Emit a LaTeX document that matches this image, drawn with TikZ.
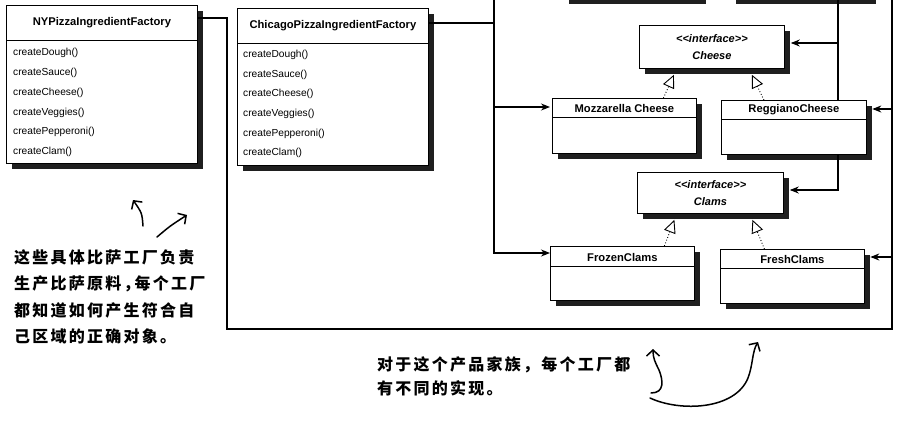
\documentclass[tikz,border=0pt]{standalone}
\usepackage{fontspec}
\setmainfont{Liberation Sans}
\newfontfamily\cjk[LetterSpace=14]{Noto Sans CJK SC}
\usetikzlibrary{arrows.meta,shadows}
\pgfdeclarelayer{bg}
\pgfsetlayers{bg,main}
\tikzset{
 box/.style={draw, line width=0.8pt, fill=white, rectangle, inner sep=0, anchor=north west,
   drop shadow={shadow xshift=5.5pt, shadow yshift=-5.5pt, fill=black, opacity=0.88}},
 ttl/.style={font=\bfseries\fontsize{11.2}{13}\selectfont, inner sep=0},
 ifc/.style={font=\bfseries\itshape\fontsize{11}{17}\selectfont, inner sep=0, align=center},
 meth/.style={font=\fontsize{10.2}{12}\selectfont, inner sep=0, anchor=west},
 conn/.style={line width=1.1pt},
 assoc/.style={conn, -{Stealth[length=9pt,width=7pt]}},
 real/.style={line width=0.9pt, dotted, -{Triangle[open,length=13pt,width=12pt,line width=0.9pt]}},
 hand/.style={line width=1.5pt, line cap=round, line join=round, -{Straight Barb[length=6pt,width=13pt,line width=1.5pt]}},
 note/.style={align=left, inner sep=0, anchor=north west},
}
\begin{document}
\begin{tikzpicture}[x=1pt,y=-1pt]
\useasboundingbox (0,0) rectangle (912,420);
\clip (0,0) rectangle (912,420);

% ---------- boxes ----------
\node[box, minimum width=191pt, minimum height=158pt] (ny) at (6,5) {};
\draw[line width=0.8pt] ([yshift=-35pt]ny.north west) -- ([yshift=-35pt]ny.north east);
\node[ttl] (nyT) at ([yshift=-18pt]ny.north) {NYPizzaIngredientFactory};
\foreach \m [count=\i from 0] in {createDough(),createSauce(),createCheese(),createVeggies(),createPepperoni(),createClam()}
  \node[meth] (ny\i) at ([shift={(7,48.3+19.7*\i)}]ny.north west) {\m};

\node[box, minimum width=191pt, minimum height=157pt] (chi) at (237,8) {};
\draw[line width=0.8pt] ([yshift=-35pt]chi.north west) -- ([yshift=-35pt]chi.north east);
\node[ttl] (chiT) at ([yshift=-17.5pt]chi.north) {ChicagoPizzaIngredientFactory};
\foreach \m [count=\i from 0] in {createDough(),createSauce(),createCheese(),createVeggies(),createPepperoni(),createClam()}
  \node[meth] (chi\i) at ([shift={(6,47+19.6*\i)}]chi.north west) {\m};

\node[box, minimum width=137pt, minimum height=58pt] (top1) at (563,-60) {};
\node[box, minimum width=140pt, minimum height=58pt] (top2) at (730,-60) {};

\node[box, minimum width=145pt, minimum height=43pt] (cheese) at (639,25) {};
\node[ifc] (cheeseT) at (cheese.center) {<{}<interface>{}>\\Cheese};

\node[box, minimum width=144pt, minimum height=55pt] (mozz) at (552,98) {};
\draw[line width=0.8pt] ([yshift=-19pt]mozz.north west) -- ([yshift=-19pt]mozz.north east);
\node[ttl] (mozzT) at ([yshift=-10pt]mozz.north) {Mozzarella Cheese};

\node[box, minimum width=145pt, minimum height=54pt] (reg) at (721,100) {};
\draw[line width=0.8pt] ([yshift=-19pt]reg.north west) -- ([yshift=-19pt]reg.north east);
\node[ttl] (regT) at ([yshift=-10pt]reg.north) {ReggianoCheese};

\node[box, minimum width=146pt, minimum height=41pt] (clams) at (637,172) {};
\node[ifc] (clamsT) at (clams.center) {<{}<interface>{}>\\Clams};

\node[box, minimum width=144pt, minimum height=54pt] (frozen) at (550,246) {};
\draw[line width=0.8pt] ([yshift=-20pt]frozen.north west) -- ([yshift=-20pt]frozen.north east);
\node[ttl] (frozenT) at ([yshift=-11pt]frozen.north) {FrozenClams};

\node[box, minimum width=144pt, minimum height=54pt] (fresh) at (720,249) {};
\draw[line width=0.8pt] ([yshift=-19pt]fresh.north west) -- ([yshift=-19pt]fresh.north east);
\node[ttl] (freshT) at ([yshift=-10pt]fresh.north) {FreshClams};

% ---------- connectors ----------
\coordinate (nyC) at (227,329);
\coordinate (brC) at (892,329);
\coordinate (rTop) at (892,-5);
\coordinate (chiV) at (494,-5);
\coordinate (midV) at (838,-5);
\coordinate (regA) at ([shift={(5.5,9)}]reg.north east);
\coordinate (freshA) at ([shift={(5.5,8)}]fresh.north east);
\coordinate (mozzA) at ([shift={(-2,9)}]mozz.north west);
\coordinate (frozA) at ([shift={(0,7)}]frozen.north west);
\coordinate (cheeseA) at ([shift={(6,18)}]cheese.north east);
\coordinate (clamsA) at ([shift={(6,18)}]clams.north east);
\begin{pgfonlayer}{bg}
\draw[conn] ([yshift=-13pt]ny.north east) -| (nyC) -- (brC) -- (rTop);
\draw[assoc] (brC |- regA) -- (regA);
\draw[assoc] (brC |- freshA) -- (freshA);
\draw[conn] ([yshift=-15pt]chi.north east) -| (chiV);
\draw[assoc] (chiV) -- (chiV |- frozA) -- (frozA);
\draw[assoc] (chiV |- mozzA) -- (mozzA);
\draw[assoc] (midV) -- (midV |- clamsA) -- (clamsA);
\draw[assoc] (midV |- cheeseA) -- (cheeseA);
\end{pgfonlayer}

\draw[real] ([xshift=39pt]mozz.north) -- ([shift={(-38,6)}]cheese.south);
\draw[real] ([xshift=-30pt]reg.north) -- ([shift={(40,6)}]cheese.south);
\draw[real] ([xshift=42pt]frozen.north) -- ([shift={(-36,6)}]clams.south);
\draw[real] ([xshift=-28pt]fresh.north) -- ([shift={(42,6)}]clams.south);

% ---------- annotations ----------
\node[note, font=\cjk\bfseries\fontsize{16}{26.5}\selectfont] (n1) at (14,249)
  {这些具体比萨工厂负责\\生产比萨原料，\kern-5pt 每个工厂\\都知道如何产生符合自\\己区域的正确对象。};
\node[note, font=\cjk\bfseries\fontsize{16}{24}\selectfont] (n2) at (377,356)
  {对于这个产品家族，每个工厂都\\有不同的实现。};

\coordinate (h1s) at (143,226);
\coordinate (h1e) at (133,200);
\coordinate (h2s) at (157,237);
\coordinate (h2e) at (187,215);
\draw[hand] (h1s) .. controls (142,213) .. (h1e);
\draw[hand] (h2s) .. controls (170,226) .. (h2e);
\coordinate (h3s) at (651,393);
\coordinate (h3e) at (653,349);
\coordinate (h4s) at (650,398);
\coordinate (h4e) at (758,342);
\draw[hand] (h3s) .. controls (665,393) and (663,380) .. (659,370) .. controls (655,362) and (653,358) .. (h3e);
\draw[hand] (h4s) .. controls (680,412) and (735,410) .. (748,378) .. controls (753,365) and (752,352) .. (h4e);
\end{tikzpicture}
\end{document}
